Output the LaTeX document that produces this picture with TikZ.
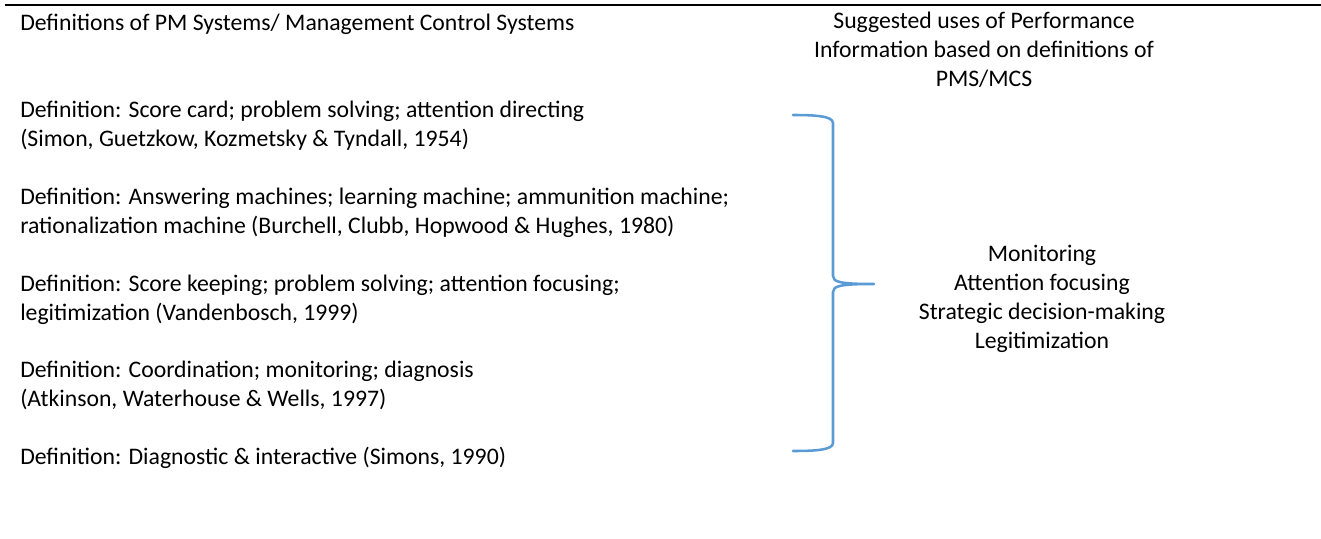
\documentclass[tikz,border=0pt]{standalone}
\usepackage{fontspec}
\setmainfont{Carlito}
\definecolor{braceblue}{HTML}{5B9BD5}
\begin{document}
\begin{tikzpicture}[x=0.75pt,y=-0.75pt,
  txt/.style={inner sep=0pt, font=\fontsize{17.8}{21.7}\selectfont},
  deftext/.style={txt, anchor=base west, align=left},
  ctrtext/.style={txt, anchor=base, align=center},
  bracepath/.style={draw=braceblue, line width=1.9pt, line cap=round, line join=round}]
\useasboundingbox (0,0) rectangle (1321,539);
\draw[line width=1.5pt] (5,5) -- (1321,5);
% multi-line nodes: base anchor = baseline of the last line
\node[deftext] (head) at (20,30) {Definitions of PM Systems/ Management Control Systems};
\node[ctrtext] (uses) at (984,86) {Suggested uses of Performance\\Information based on definitions of\\PMS/MCS};
\node[deftext] (d1) at (20,146) {Definition: Score card; problem solving; attention directing\\(Simon, Guetzkow, Kozmetsky \& Tyndall, 1954)};
\node[deftext] (d2) at (20,233) {Definition: Answering machines; learning machine; ammunition machine;\\rationalization machine (Burchell, Clubb, Hopwood \& Hughes, 1980)};
\node[deftext] (d3) at (20,320) {Definition: Score keeping; problem solving; attention focusing;\\legitimization (Vandenbosch, 1999)};
\node[deftext] (d4) at (20,406) {Definition: Coordination; monitoring; diagnosis\\(Atkinson, Waterhouse \& Wells, 1997)};
\node[deftext] (d5) at (20,464) {Definition: Diagnostic \& interactive (Simons, 1990)};
\node[ctrtext] (list) at (1042,348) {Monitoring\\Attention focusing\\Strategic decision-making\\Legitimization};
\coordinate (btop) at (793,115);
\coordinate (bbot) at (793,451);
\coordinate (btip) at (874,284);
\draw[bracepath] (btop) .. controls (815,115) and (833,116) .. (833,123)
  -- (833,276) .. controls (833,282) and (840,284) .. (btip)
  (btip) .. controls (840,284) and (833,286) .. (833,292)
  -- (833,443) .. controls (833,450) and (815,451) .. (bbot);
\end{tikzpicture}
\end{document}
